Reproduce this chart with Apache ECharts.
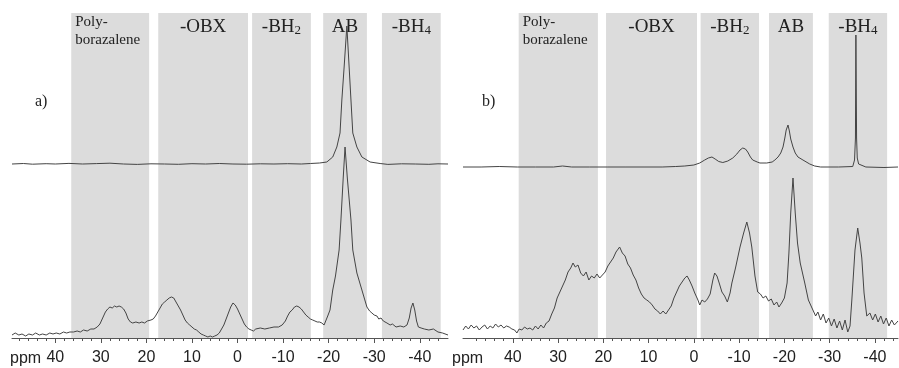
<!DOCTYPE html>
<html lang="en">
<head>
<meta charset="utf-8"/>
<title>11B NMR</title>
<script type="text/javascript" src="https://cdn.jsdelivr.net/npm/echarts@6/dist/echarts.min.js"></script>
<style>
  html, body { margin: 0; padding: 0; background: #fff; }
  #container { width: 899px; height: 368px; }
</style>
</head>
<body>
<div id="container"></div>
<script type="text/javascript">
// tick labels (ppm)
var majorTicks = [40, 30, 20, 10, 0, -10, -20, -30, -40];
var minorTicks = [48, 46, 44, 42, 38, 36, 34, 32, 28, 26, 24, 22, 18, 16, 14, 12, 8, 6, 4, 2,
                  -2, -4, -6, -8, -12, -14, -16, -18, -22, -24, -26, -28, -32, -34, -36, -38, -42, -44];

// shaded regions [from, to] in ppm
var bandNames = ['Poly-\nborazalene', '-OBX', '-BH2', 'AB', '-BH4'];
var bandsA = [[36.5, 19.4], [17.4, -2.3], [-3.2, -16.1], [-18.8, -28.4], [-31.7, -44.6]];
var bandsB = [[38.7, 21.2], [19.4, -0.7], [-1.5, -14.4], [-16.6, -26.3], [-29.8, -42.7]];

// a) upper trace [ppm, intensity]
var upperA = [[49.5,174],[47,174.5],[45,173.8],[42,174.3],[40,174],[37,174.6],[34,174],[31,174.4],[28,174.8],[25,174],
  [22,173.6],[19,174.2],[16,174],[13,173.7],[10,174.3],[7,174],[4,174.5],[1,174],[-2,173.8],[-5,174.2],[-8,174],
  [-11,174.3],[-14,174],[-16,174.5],[-18,175],[-19.6,176],[-20.9,181],[-21.8,191],[-22.5,205],[-22.9,238],[-23.4,271],
  [-24.0,312],[-24.5,271],[-24.9,238],[-25.3,205],[-26.2,191],[-27.3,181],[-29.1,176],[-31.3,174.5],[-33,173.6],
  [-36,174.2],[-39,174],[-42,173.7],[-44,174.2],[-46.2,174]];

// a) lower trace
var lowerA = [[49.5,3],[48.8,5],[48,3],[47.3,4],[46.5,2],[45.8,4],[45,3],[44.3,5],[43.5,3],[42.8,4],[42,3],[41.2,5],
  [40.5,4],[39.8,5],[39,4],[38.2,6],[37.5,5],[36.8,6],[36,6],[35.2,7],[34.5,6],[33.8,8],[33,7],[32.2,9],[31.5,9],
  [30.8,11],[30.2,14],[29.6,20],[29,26],[28.5,29],[28,31],[27.5,30],[27,32],[26.5,31],[26,32],[25.5,31],[25,29],
  [24.5,25],[24,19],[23.5,16],[23,15],[22.3,16],[21.6,15],[21,16],[20.4,15],[19.8,17],[19.4,16],[19,18],[18.5,19],
  [18,22],[17.5,26],[17,30],[16.5,34],[16,36],[15.5,38],[15,40],[14.5,41],[14,40],[13.5,36],[13,32],[12.5,28],
  [12,23],[11.5,18],[11,15],[10.5,13],[10,11],[9.5,9],[9,8],[8.5,6],[8,4],[7.5,3],[7,2],[6.5,1],[6,2],[5.5,1],
  [5,2],[4.5,3],[4,5],[3.5,9],[3,13],[2.5,19],[2,25],[1.5,31],[1,35],[0.5,33],[0,29],[-0.5,24],[-1,19],[-1.5,14],
  [-2,11],[-2.5,9],[-3,8],[-3.5,7],[-4,9],[-5,10],[-6,9],[-7,10],[-8,11],[-9,11],[-9.8,13],[-10.5,17],[-11,22],
  [-11.5,26],[-12,28],[-12.5,31],[-13,32],[-13.5,31],[-14,29],[-14.5,26],[-15,23],[-15.5,21],[-16,19],[-16.5,18],
  [-17,17],[-17.5,16],[-18,16],[-18.5,15],[-19,13],[-19.4,12],[-19.8,22],[-20.3,28],[-20.9,48],[-21.5,62],
  [-22.3,88],[-22.7,118],[-23.2,160],[-23.6,191],[-24.1,160],[-24.9,118],[-25.3,88],[-26.2,65],[-27.3,48],
  [-28.4,31],[-29,27],[-29.5,25],[-30,23],[-30.6,22],[-31,19],[-31.5,20],[-32,17],[-32.8,15],[-33.5,13],[-34,14],
  [-34.8,11],[-35.7,12],[-36.5,11],[-37.2,13],[-37.7,20],[-38.1,30],[-38.5,35],[-38.9,28],[-39.3,17],[-39.7,11],
  [-40.3,10],[-41,9],[-42,8],[-43,9],[-44,6],[-45,5],[-46.2,3]];

// b) upper trace
var upperB = [[51,171],[47,171],[43,171.5],[39,171],[35,171],[31,171],[29,172],[27,171],[23,171],[19,171],[15,171],
  [11,171],[7,171],[4,171.5],[2,172],[0,173],[-1.3,175],[-2.4,178],[-3.2,180],[-4.0,181],[-4.7,179],[-5.5,176.5],
  [-6.4,175.5],[-7.5,177],[-8.6,180],[-9.5,184],[-10.2,188],[-10.8,190],[-11.4,189],[-11.9,186],[-12.5,181],
  [-13.0,178],[-14,176],[-14.6,175],[-16.1,175],[-17.3,176],[-17.9,178],[-18.6,181],[-19.2,185],[-19.7,191],
  [-20.1,200],[-20.4,208],[-20.8,213],[-21.1,207],[-21.4,199],[-21.9,191],[-22.4,185],[-23.0,181],[-24.1,178],
  [-25.6,174],[-26.7,172],[-28,171],[-32,171],[-35.1,171.5],[-35.5,178],[-35.7,200],[-35.8,303],[-35.95,200],
  [-36.1,180],[-36.4,174],[-36.7,172],[-38,171],[-42,170.5],[-45.1,171]];

// b) lower trace
var lowerB = [[51,8],[50.4,12],[49.8,9],[49.2,13],[48.6,10],[48,12],[47.4,8],[46.8,11],[46.2,13],[45.6,9],[45,12],
  [44.4,10],[43.8,14],[43.2,11],[42.6,13],[42,10],[41.4,12],[40.8,11],[40.2,9],[39.6,8],[39.1,5],[38.6,9],[38,8],
  [37.4,11],[36.8,9],[36.2,10],[35.6,8],[35,12],[34.4,9],[33.8,13],[33.2,10],[32.6,15],[32,17],[31.4,24],[30.8,30],
  [30.2,40],[29.6,46],[29,52],[28.4,58],[27.8,66],[27.2,70],[26.7,75],[26.2,71],[25.6,73],[25,65],[24.4,62],
  [23.8,66],[23.2,58],[22.6,62],[22,60],[21.4,64],[20.8,60],[20.2,63],[19.6,66],[19,72],[18.4,76],[17.8,80],
  [17.2,86],[16.8,88],[16.4,91],[15.8,85],[15.2,82],[14.6,74],[14,70],[13.4,63],[12.8,58],[12.2,50],[11.6,44],
  [11,40],[10.4,38],[9.8,36],[9.2,33],[8.6,29],[8,27],[7.4,24],[6.8,27],[6.2,24],[5.6,28],[5,32],[4.4,40],[3.8,46],
  [3.2,52],[2.6,56],[2,60],[1.5,62],[1,58],[0.4,52],[-0.2,45],[-0.9,38],[-1.3,33],[-1.8,38],[-2.4,36],[-3,39],
  [-3.6,44],[-4.2,58],[-4.6,65],[-5.1,62],[-5.6,55],[-6.2,46],[-6.8,42],[-7.4,36],[-8,45],[-8.4,55],[-9.2,70],
  [-10.2,91],[-11,105],[-11.7,116],[-12.3,105],[-12.8,91],[-13.5,62],[-14.1,46],[-14.7,44],[-15.3,40],[-15.9,42],
  [-16.5,37],[-17.1,39],[-17.7,33],[-18.3,36],[-18.8,31],[-19.4,35],[-20.0,40],[-20.6,55],[-21.0,85],[-21.4,125],
  [-21.9,160],[-22.4,125],[-22.9,95],[-23.5,75],[-24.5,55],[-25.3,38],[-26.3,28],[-26.9,22],[-27.4,26],[-28,18],
  [-28.6,24],[-29.2,15],[-29.8,20],[-30.4,12],[-31,19],[-31.6,10],[-32.2,17],[-32.8,8],[-33.4,18],[-34,6],
  [-34.5,12],[-34.9,38],[-35.6,88],[-36.2,110],[-36.7,95],[-37.1,80],[-37.6,45],[-38.2,22],[-38.9,25],[-39.5,18],
  [-40.1,24],[-40.7,16],[-41.3,22],[-41.9,14],[-42.5,20],[-43.1,12],[-43.7,18],[-44.3,13],[-45.1,17]];

var serif = 'Liberation Serif';
var sans = 'Liberation Sans';
var bandColor = '#dcdcdc';
var lineColor = '#444';

function bandLabel(i) {
    if (i === 0) {
        return {show: true, position: [4, 0], align: 'left', verticalAlign: 'top', color: '#222',
                fontFamily: serif, fontSize: 15, lineHeight: 18, formatter: bandNames[0]};
    }
    var fmt = bandNames[i];
    if (fmt === '-BH2') fmt = '{m|-BH}{s|2}';
    else if (fmt === '-BH4') fmt = '{m|-BH}{s|4}';
    else fmt = '{m|' + fmt + '}';
    return {show: true, position: 'insideTop', distance: 2, formatter: fmt,
            rich: {
                m: {fontFamily: serif, fontSize: 19, lineHeight: 22, color: '#222', verticalAlign: 'bottom'},
                s: {fontFamily: serif, fontSize: 13, lineHeight: 13, color: '#222', verticalAlign: 'bottom'}
            }};
}

function makeBands(bands) {
    var out = [];
    for (var i = 0; i < bands.length; i++) {
        out.push([{xAxis: bands[i][0], name: bandNames[i], label: bandLabel(i)}, {xAxis: bands[i][1]}]);
    }
    return out;
}

function xAxes(grid, min, max) {
    return [
        {type: 'value', gridIndex: grid, inverse: true, min: min, max: max, position: 'bottom',
         axisLine: {show: true, lineStyle: {color: '#555', width: 1}},
         axisTick: {show: true, customValues: majorTicks, length: 5, lineStyle: {color: '#555'}},
         axisLabel: {show: true, customValues: majorTicks, margin: 12, fontFamily: sans, fontSize: 16, color: '#222'},
         splitLine: {show: false}},
        {type: 'value', gridIndex: grid, inverse: true, min: min, max: max, position: 'bottom',
         axisLine: {show: false},
         axisTick: {show: true, customValues: minorTicks, length: 3, lineStyle: {color: '#555'}},
         axisLabel: {show: false},
         splitLine: {show: false}}
    ];
}

function trace(data, xi, yi, bands) {
    var s = {type: 'line', data: data, xAxisIndex: xi, yAxisIndex: yi, showSymbol: false, symbol: 'none',
             silent: true, lineStyle: {color: lineColor, width: 1}, z: 3};
    if (bands) {
        s.markArea = {silent: true, itemStyle: {color: bandColor}, data: makeBands(bands)};
    }
    return s;
}

var dom = document.getElementById('container');
var myChart = echarts.init(dom, null, {renderer: 'canvas'});
var option = {
    animation: false,
    backgroundColor: '#fff',
    grid: [
        {left: 12, top: 13, width: 436, height: 325},
        {left: 463, top: 13, width: 435, height: 325}
    ],
    xAxis: xAxes(0, -46.2, 49.5).concat(xAxes(1, -45.1, 51)),
    yAxis: [
        {type: 'value', gridIndex: 0, min: 0, max: 325, show: false},
        {type: 'value', gridIndex: 1, min: 0, max: 325, show: false}
    ],
    graphic: [
        {type: 'text', left: 35, top: 94, style: {text: 'a)', fontFamily: serif, fontSize: 16, fill: '#222'}},
        {type: 'text', left: 482, top: 94, style: {text: 'b)', fontFamily: serif, fontSize: 16, fill: '#222'}},
        {type: 'text', left: 10, top: 351, style: {text: 'ppm', fontFamily: sans, fontSize: 16, fill: '#222'}},
        {type: 'text', left: 452, top: 351, style: {text: 'ppm', fontFamily: sans, fontSize: 16, fill: '#222'}}
    ],
    series: [
        trace(upperA, 0, 0, bandsA),
        trace(lowerA, 0, 0, null),
        trace(upperB, 2, 1, bandsB),
        trace(lowerB, 2, 1, null)
    ]
};
myChart.setOption(option, true);
</script>
</body>
</html>
